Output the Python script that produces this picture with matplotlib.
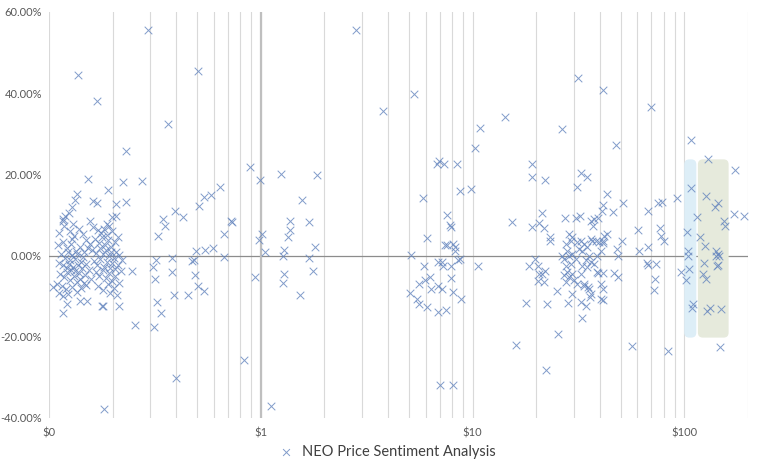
import matplotlib
matplotlib.use("Agg")
import matplotlib.pyplot as plt
from matplotlib.patches import FancyBboxPatch
from matplotlib.transforms import IdentityTransform
from matplotlib.ticker import FixedLocator, LogLocator, NullFormatter, FuncFormatter

# (price in $, price change in %), grouped by price decade
left_blob = [
    (0.112, 5.5), (0.118, 7.2), (0.125, 6.0), (0.131, 4.8), (0.138, 6.6), (0.145, 5.2), (0.150, 3.9),
    (0.110, 2.5), (0.116, 3.4), (0.121, 1.8), (0.127, 2.9), (0.134, 1.2), (0.140, 2.2), (0.147, 0.8), (0.153, 1.9),
    (0.114, 0.3), (0.119, -0.5), (0.123, 0.9), (0.126, -1.2), (0.129, 0.2), (0.132, -0.8), (0.136, 0.5),
    (0.141, -1.5), (0.144, -0.3), (0.149, -2.0),
    (0.111, -1.8), (0.117, -2.4), (0.121, -3.0), (0.124, -2.1), (0.127, -3.6), (0.130, -2.7), (0.133, -3.9),
    (0.137, -2.2), (0.139, -4.4), (0.143, -3.1), (0.148, -4.8), (0.155, -3.5),
    (0.113, -4.6), (0.118, -5.3), (0.122, -4.0), (0.126, -6.0), (0.131, -5.1), (0.135, -6.4), (0.140, -5.7), (0.146, -6.8),
    (0.109, -6.9), (0.115, -7.5), (0.120, -8.3), (0.128, -7.8), (0.136, -8.9), (0.142, -8.0), (0.150, -7.2),
    (0.119, 9.8), (0.124, 10.6), (0.129, 4.0), (0.123, -9.5), (0.116, -10.0),
]
right_blob = [
    (0.162, 7.0), (0.170, 6.2), (0.176, 5.6), (0.181, 6.5), (0.187, 5.0), (0.193, 7.3), (0.199, 6.0),
    (0.165, 4.0), (0.172, 3.1), (0.178, 4.5), (0.184, 2.6), (0.190, 3.8), (0.197, 2.2), (0.204, 3.3), (0.212, 4.6),
    (0.160, 1.5), (0.167, 0.6), (0.174, 1.9), (0.180, 0.3), (0.186, 1.3), (0.191, -0.2), (0.196, 0.9),
    (0.202, -0.6), (0.208, 1.0), (0.215, 0.1), (0.221, -1.0),
    (0.163, -1.4), (0.169, -2.2), (0.175, -0.9), (0.182, -2.7), (0.188, -1.6), (0.194, -3.0), (0.199, -1.9),
    (0.205, -3.4), (0.211, -2.3), (0.218, -3.8),
    (0.166, -4.1), (0.173, -5.0), (0.179, -3.6), (0.185, -5.6), (0.191, -4.4), (0.198, -6.2), (0.206, -5.0), (0.213, -6.8),
    (0.171, -7.5), (0.180, -8.4), (0.189, -7.0), (0.195, -9.2), (0.203, -8.0), (0.210, -9.6),
    (0.158, -5.8), (0.157, 2.8),
]
under_1 = [
    (0.294, 55.5), (0.137, 44.5), (0.169, 38.1), (0.507, 45.5), (0.366, 32.4), (0.231, 25.8), (0.153, 18.8),
    (0.224, 18.2), (0.276, 18.3), (0.893, 21.7), (0.995, 18.7), (0.190, 16.1), (0.136, 15.2), (0.133, 13.7),
    (0.162, 13.5), (0.168, 12.9), (0.208, 12.7), (0.231, 13.3), (0.128, 11.9), (0.208, 9.8), (0.198, 9.4),
    (0.117, 8.6), (0.130, 7.8), (0.156, 8.6), (0.188, 7.9), (0.116, 9.0),
    (0.105, -7.8), (0.112, -9.3), (0.117, -14.1), (0.122, -11.9), (0.140, -11.3), (0.151, -11.1), (0.178, -12.5),
    (0.179, -12.3), (0.214, -12.3), (0.182, -37.8), (0.255, -17.0), (0.314, -17.6), (0.324, -11.5), (0.339, -14.2),
    (0.399, -30.1), (0.247, -3.9), (0.317, -5.7), (0.310, -2.9), (0.320, -1.2), (0.382, -0.6), (0.382, -4.1),
    (0.390, -9.8), (0.455, -9.6), (0.475, -1.4), (0.485, -1.2), (0.490, -4.7), (0.507, -7.4), (0.541, -8.8),
    (0.496, 1.1), (0.547, 1.4), (0.597, 1.9), (0.673, 5.2), (0.673, -0.4), (0.837, -25.8), (0.943, -5.3),
    (0.734, 8.2), (0.328, 4.9), (0.354, 7.4), (0.346, 9.0), (0.394, 10.9), (0.431, 9.4), (0.512, 12.2),
    (0.541, 14.5), (0.584, 15.0), (0.644, 17.0), (0.726, 8.4), (0.977, 3.9),
]
one_to_10 = [
    (1.014, 5.3), (1.044, 0.8), (1.115, -37.0), (1.37, 8.6), (1.37, 6.2), (1.34, 4.5), (1.69, 8.3),
    (1.244, 20.2), (1.84, 19.8), (1.56, 13.7), (1.285, 1.5), (1.27, 0.0), (1.80, 2.2), (1.69, -0.7),
    (1.285, -4.5), (1.27, -6.8), (1.76, -3.9), (1.53, -9.6),
    (2.81, 55.5), (5.30, 39.7), (3.78, 35.5),
    (6.80, 22.5), (6.95, 23.3), (7.34, 22.5), (8.46, 22.5), (5.84, 14.2), (8.76, 16.0), (9.89, 16.4),
    (7.58, 10.0), (7.84, 7.6), (7.92, 7.0), (6.10, 4.3), (7.42, 2.6), (7.58, 2.5), (8.09, 2.9), (8.25, 2.2),
    (8.30, 1.2), (5.12, 0.2), (5.90, -2.5), (6.87, -1.6), (7.18, -1.6), (7.26, -2.6), (7.92, -2.5),
    (8.55, -1.2), (8.72, -0.8), (7.9, -5.5), (5.97, -6.0), (6.31, -5.3), (5.59, -7.1), (6.37, -8.2),
    (6.87, -7.4), (7.18, -8.2), (8.05, -9.0), (8.83, -10.8), (5.07, -9.3), (5.47, -10.7), (5.59, -11.9),
    (6.10, -12.7), (6.84, -13.8), (7.50, -13.3), (7.02, -31.8), (8.09, -31.9),
]
ten_to_100 = [
    (10.33, 26.6), (10.8, 31.4), (14.2, 34.2), (10.6, -2.5), (15.3, 8.2),
    (31.4, 43.8), (41.2, 40.8), (26.4, 31.3), (69.5, 36.6), (47.5, 27.3), (19.0, 22.5), (19.0, 19.3),
    (21.9, 18.7), (32.4, 20.3), (34.6, 19.3), (31.2, 16.8), (21.2, 10.6), (19.0, 7.0), (20.5, 8.0),
    (21.7, 6.8), (27.2, 9.3), (30.7, 9.3), (32.1, 9.8), (36.2, 8.4), (37.4, 9.0), (39.0, 9.3), (37.0, 7.4),
    (41.2, 12.5), (41.0, 11.1), (43.1, 15.2), (46.0, 10.8), (51.2, 12.9), (67.3, 10.9), (75.0, 12.9),
    (78.4, 13.1), (92.3, 14.3), (60.3, 6.3), (76.8, 6.8), (77.5, 4.9), (80.3, 3.7), (43.1, 5.4), (41.9, 4.9),
    (41.2, 3.7), (41.2, 3.0), (50.7, 3.6), (48.1, 1.6), (48.4, 0.0), (61.0, 1.1), (67.7, 2.0), (66.6, -1.7),
    (67.3, -2.3), (73.4, -2.0), (72.6, -5.7), (72.0, -8.4), (41.2, -4.3), (40.5, -7.0), (41.2, -10.9),
    (46.5, -4.3), (48.5, -5.2), (56.5, -22.3), (83.7, -23.4), (96.9, -4.1),
    (18.4, -2.5), (19.8, -0.8), (20.3, -2.5), (20.5, -4.5), (20.3, -6.3), (21.4, -4.5), (21.7, -6.6),
    (22.1, -3.8), (25.0, -8.8), (17.8, -11.7), (22.4, -11.9), (28.4, -11.7), (32.4, -11.5), (34.3, -12.5),
    (32.8, -15.3), (25.3, -19.4), (16.0, -21.9), (22.3, -28.1), (23.2, 4.5), (23.2, 3.7), (39.0, -4.3),
    (38.8, -4.0), (29.4, -9.4), (35.8, -10.2), (35.0, -7.8), (33.6, -7.0), (40.5, -10.6), (41.2, -8.2),
    (28.5, 5.3), (29.6, 4.5), (29.1, 3.7), (27.5, 2.9), (28.0, 1.2), (26.6, 0.0), (27.0, -0.8), (28.5, 0.0),
    (29.6, 0.4), (30.7, -0.8), (29.1, -2.0), (27.5, -2.5), (28.0, -4.1), (27.0, -4.9), (28.5, -5.3),
    (29.6, -4.5), (30.2, -6.1), (27.5, -6.6), (32.4, 3.7), (33.6, 2.9), (36.2, 4.1), (36.8, 3.7), (34.9, 2.0),
    (33.0, 1.2), (35.5, 0.0), (34.3, -1.2), (36.2, -1.6), (33.0, -2.5), (34.9, -2.9), (32.4, -4.5),
    (31.3, -7.0), (33.6, -7.4), (35.5, -8.2), (36.2, -9.4), (38.2, 3.7), (39.6, 3.3), (40.4, 1.2),
    (38.9, 0.0), (37.5, -2.0), (31.3, 3.3), (31.9, 1.6),
]
over_100 = [
    (107.9, 28.4), (107.9, 16.6), (129.9, 23.8), (174.3, 21.0), (127.1, 14.7), (115.2, 9.6), (140.2, 12.0),
    (144.9, 12.9), (154.6, 8.4), (155.0, 7.4), (172.4, 10.3), (192.2, 9.8), (103.3, 5.7), (119.0, 4.5),
    (125.7, 2.4), (104.5, 1.2), (104.5, -0.1), (141.7, 1.2), (145.0, 0.5), (146.4, -0.2), (140.5, -0.1),
    (105.3, -3.3), (101.6, -6.1), (124.4, -1.9), (123.0, -4.5), (127.1, -5.7), (143.3, -2.5), (144.9, -2.3),
    (109.9, -12.0), (108.7, -12.9), (128.5, -13.7), (132.8, -12.8), (149.7, -13.1), (148.1, -22.6),
]

# highlighted zones: (x from, x to, y from, y to, colour)
zones = [
    (100, 114, -20.2, 23.7, "#DDEEF7"),
    (116, 162, -20.2, 23.7, "#E6EADC"),
]

x_ticks = [0.1, 1, 10, 100]
x_labels = ["$0", "$1", "$10", "$100"]
y_ticks = [-40, -20, 0, 20, 40, 60]

all_pts = left_blob + right_blob + under_1 + one_to_10 + ten_to_100 + over_100
prices = [p for p, _ in all_pts]
changes = [c for _, c in all_pts]

plt.rcParams['font.family'] = ['Lato', 'DejaVu Sans']

fig = plt.figure(figsize=(7.68, 4.70), dpi=100)
ax = fig.add_axes([49 / 768, 1 - 418 / 470, 699 / 768, 406 / 470])
ax.set_xscale('log')
ax.set_xlim(0.1, 200)
ax.set_ylim(-40, 60)

for s in ax.spines.values():
    s.set_visible(False)

ax.xaxis.set_major_locator(FixedLocator(x_ticks))
ax.set_xticklabels(x_labels)
ax.xaxis.set_minor_locator(LogLocator(base=10, subs=range(2, 10), numticks=20))
ax.xaxis.set_minor_formatter(NullFormatter())
ax.set_yticks(y_ticks)
ax.yaxis.set_major_formatter(FuncFormatter(lambda v, _: f"{v:.2f}%"))
ax.tick_params(which='both', length=0, colors='#595959', labelsize=8)
ax.tick_params(axis='x', pad=7)
ax.tick_params(axis='y', pad=5)
ax.grid(which='both', axis='x', color='#D9D9D9', lw=0.8, zorder=0)
ax.set_axisbelow(True)

# axis crossing lines
ax.axhline(0, color='#8C8C8C', lw=0.9, zorder=1)
ax.axvline(1, color='#BFBFBF', lw=1.6, zorder=1)

# rounded highlight boxes, drawn in pixel space so the corners stay round on a log axis
for x0, x1, y0, y1, col in zones:
    (px0, py0), (px1, py1) = ax.transData.transform([(x0, y0), (x1, y1)])
    box = FancyBboxPatch((px0, py0), px1 - px0, py1 - py0,
                         boxstyle="round,pad=0,rounding_size=5",
                         transform=IdentityTransform(), fc=col, ec='none', zorder=1.5)
    ax.add_patch(box)

sc = ax.scatter(prices, changes, marker='x', s=30, linewidths=0.7,
                color='#6283BD', alpha=0.8, zorder=3,
                label='NEO Price Sentiment Analysis')

leg = fig.legend(handles=[sc], loc='center', bbox_to_anchor=(0.5, 1 - 452 / 470),
                 frameon=False, fontsize=10.5, handletextpad=0.1, markerscale=0.9)
for t in leg.get_texts():
    t.set_color('#404040')

fig.savefig('out.png', dpi=100)
